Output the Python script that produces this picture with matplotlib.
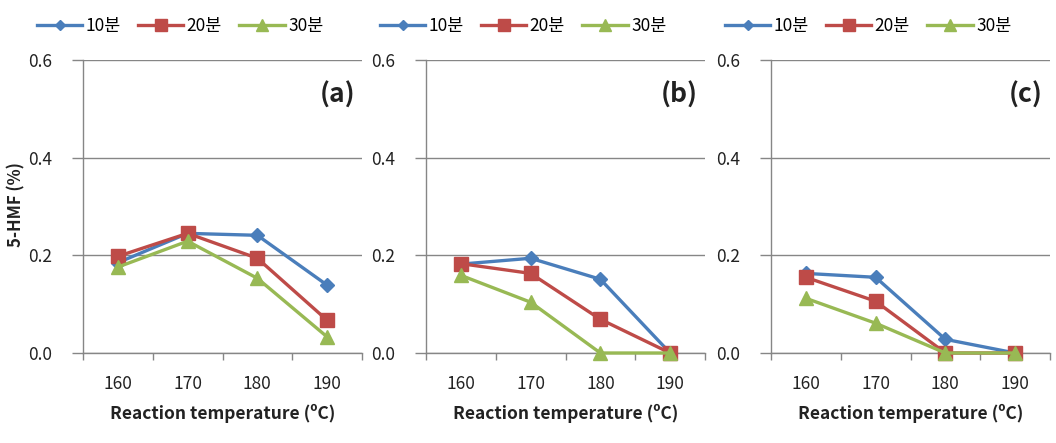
import matplotlib
matplotlib.use("Agg")
import matplotlib.pyplot as plt
import matplotlib.ticker as mticker

plt.rcParams["font.family"] = ["Noto Sans CJK KR", "DejaVu Sans"]

temps = ["160", "170", "180", "190"]
series_names = ["10분", "20분", "30분"]
panel_labels = ["(a)", "(b)", "(c)"]

a_10 = [0.185, 0.245, 0.241, 0.139]
a_20 = [0.198, 0.245, 0.194, 0.067]
a_30 = [0.176, 0.229, 0.153, 0.033]

b_10 = [0.182, 0.194, 0.151, 0.0]
b_20 = [0.183, 0.163, 0.069, 0.0]
b_30 = [0.159, 0.104, 0.0, 0.0]

c_10 = [0.163, 0.155, 0.028, 0.0]
c_20 = [0.155, 0.106, 0.0, 0.0]
c_30 = [0.112, 0.061, 0.0, 0.0]

panels = [(a_10, a_20, a_30), (b_10, b_20, b_30), (c_10, c_20, c_30)]

COLORS = ["#4A7EBB", "#BE4B48", "#98B954"]
MARKERS = ["D", "s", "^"]
MSIZES = [7, 10, 10]
GRID = "#868686"
TEXT = "#222222"

W, H = 1056, 443
fig = plt.figure(figsize=(W / 100, H / 100), dpi=100)

lefts = [83, 426, 771]
ax_w, ax_top, ax_bot = 279, 60, 353

for i, (vals, lab) in enumerate(zip(panels, panel_labels)):
    ax = fig.add_axes([lefts[i] / W, 1 - ax_bot / H, ax_w / W, (ax_bot - ax_top) / H])
    x = range(len(temps))
    for v, name, c, m, ms in zip(vals, series_names, COLORS, MARKERS, MSIZES):
        ax.plot(x, v, color=c, marker=m, markersize=ms, linewidth=2.4,
                label=name, clip_on=False, zorder=3)

    ax.set_xlim(-0.5, 3.5)
    ax.set_ylim(0, 0.6)
    ax.set_xticks(list(x))
    ax.set_xticklabels(temps)
    ax.xaxis.set_minor_locator(mticker.FixedLocator([-0.5, 0.5, 1.5, 2.5, 3.5]))
    ax.set_yticks([0.0, 0.2, 0.4, 0.6])
    ax.yaxis.set_major_formatter(mticker.FormatStrFormatter("%.1f"))

    ax.tick_params(axis="x", which="major", length=0, pad=16, labelsize=12.5, colors=TEXT)
    ax.tick_params(axis="x", which="minor", length=5, color=GRID, width=1)
    ax.tick_params(axis="y", length=8, color=GRID, width=1, pad=14, labelsize=12.5,
                   labelcolor=TEXT)

    ax.grid(axis="y", color=GRID, linewidth=1)
    ax.set_axisbelow(True)
    for s in ["top", "right"]:
        ax.spines[s].set_visible(False)
    for s in ["left", "bottom"]:
        ax.spines[s].set_color(GRID)
        ax.spines[s].set_linewidth(1)

    ax.set_xlabel("Reaction temperature (ºC)", fontsize=12.5, fontweight="bold",
                  color=TEXT, labelpad=8)

    ax.text(0.975, 0.88, lab, transform=ax.transAxes, fontsize=19,
            fontweight="bold", ha="right", va="center", color=TEXT)

    ax.legend(loc="lower left", bbox_to_anchor=(-0.19, 1.06), ncol=3, frameon=False,
              fontsize=12.5, handlelength=2.6, handletextpad=0.2, columnspacing=1.0,
              borderaxespad=0, markerscale=0.8)

fig.text(16 / W, 1 - 205 / H, "5-HMF (%)", rotation=90, fontsize=12,
         fontweight="bold", color=TEXT, ha="center", va="center")

fig.savefig("out.png", dpi=100, facecolor="white")
